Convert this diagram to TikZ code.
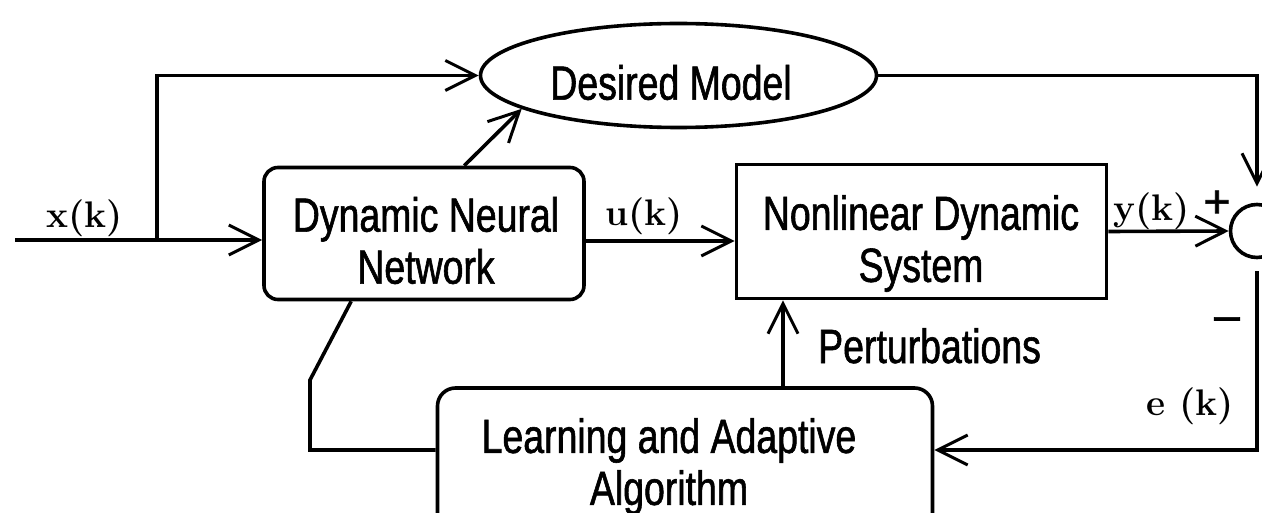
\documentclass[tikz,border=0pt]{standalone}
\usepackage{fontspec}
\newfontfamily\lab[FakeStretch=0.78,FakeBold=1.2]{Liberation Sans}
\newfontfamily\labb[FakeBold=1.5]{Liberation Sans}
\usetikzlibrary{arrows.meta,shapes.geometric,calc}
\tikzset{
  box/.style={draw, line width=3.6pt, inner sep=0pt},
  txt/.style={inner sep=0pt, align=center, font=\lab\fontsize{48}{52}\selectfont},
  sig/.style={inner sep=0pt, font=\bfseries\fontsize{37}{40}\selectfont},
  sgn/.style={inner sep=0pt, font=\labb\fontsize{46}{48}\selectfont},
  wire/.style={line width=3.6pt},
  arr/.style={wire, -{Straight Barb[length=30pt,width=30pt,line width=3pt]}}
}
\begin{document}
\begin{tikzpicture}[x=1pt,y=-1pt]
\useasboundingbox (0,0) rectangle (1262,513);
\clip (0,0) rectangle (1262,513);
% blocks
\node[box, ellipse, minimum width=396pt, minimum height=104pt] (dm) at (678.5,75.5) {};
\node[box, rounded corners=14pt, minimum width=320pt, minimum height=132pt] (dnn) at (424,233.5) {};
\node[box, minimum width=370pt, minimum height=134pt] (nds) at (921.5,231.5) {};
\node[box, rounded corners=18pt, minimum width=495pt, minimum height=157pt] (lrn) at (685,466.5) {};
\node[box, circle, minimum size=53pt] (sum) at (1257,231) {};
% block texts
\node[txt] (dmt) at (671,82.5) {Desired Model};
\node[txt] (dnnt) at (426,240.5) {Dynamic Neural\\Network};
\node[txt] (ndst) at (921,243.5) {Nonlinear Dynamic\\System};
\node[txt] (lrnt) at (669,466.5) {Learning and Adaptive\\Algorithm};
\node[txt, anchor=base west] (pert) at (818,363) {Perturbations};
% signal labels
\node[sig, anchor=base west] (xl) at (46,228) {x(k)};
\node[sig, anchor=base west] (ul) at (605,226) {u(k)};
\node[sig, anchor=base west] (yl) at (1113,221) {y(k)};
\node[sig, anchor=base west] (el) at (1146,415) {e (k)};
\node[sgn] (plus) at (1217,204) {+};
\node[sgn] (minus) at (1227,324) {–};
% coordinates
\coordinate (in) at (15,240);
\coordinate (br) at (157,240);
\coordinate (uy) at (0,241);
\coordinate (ey) at (0,450);
\coordinate (px) at (783,0);
\coordinate (fb1) at (310,450);
\coordinate (fb2) at (310,380);
% connectors
\draw[arr] (in) -- (in -| dnn.west);
\draw[arr] (br) |- (dm.west);
\draw[arr] ($(dnn.north west)+(202pt,0pt)$) -- (dm.192);
\draw[arr] (dnn.east |- uy) -- (nds.west |- uy);
\draw[arr] (nds.east) -- (sum.west);
\draw[arr, shorten >=16pt] (dm.east) -| (sum.north);
\draw[arr, shorten <=12pt] (sum.south) |- (lrn.east |- ey);
\draw[arr] (lrn.north -| px) -- (nds.south -| px);
\draw[wire] (lrn.west |- ey) -- (fb1) -- (fb2) -- ($(dnn.south west)+(89pt,0pt)$);
\end{tikzpicture}
\end{document}
